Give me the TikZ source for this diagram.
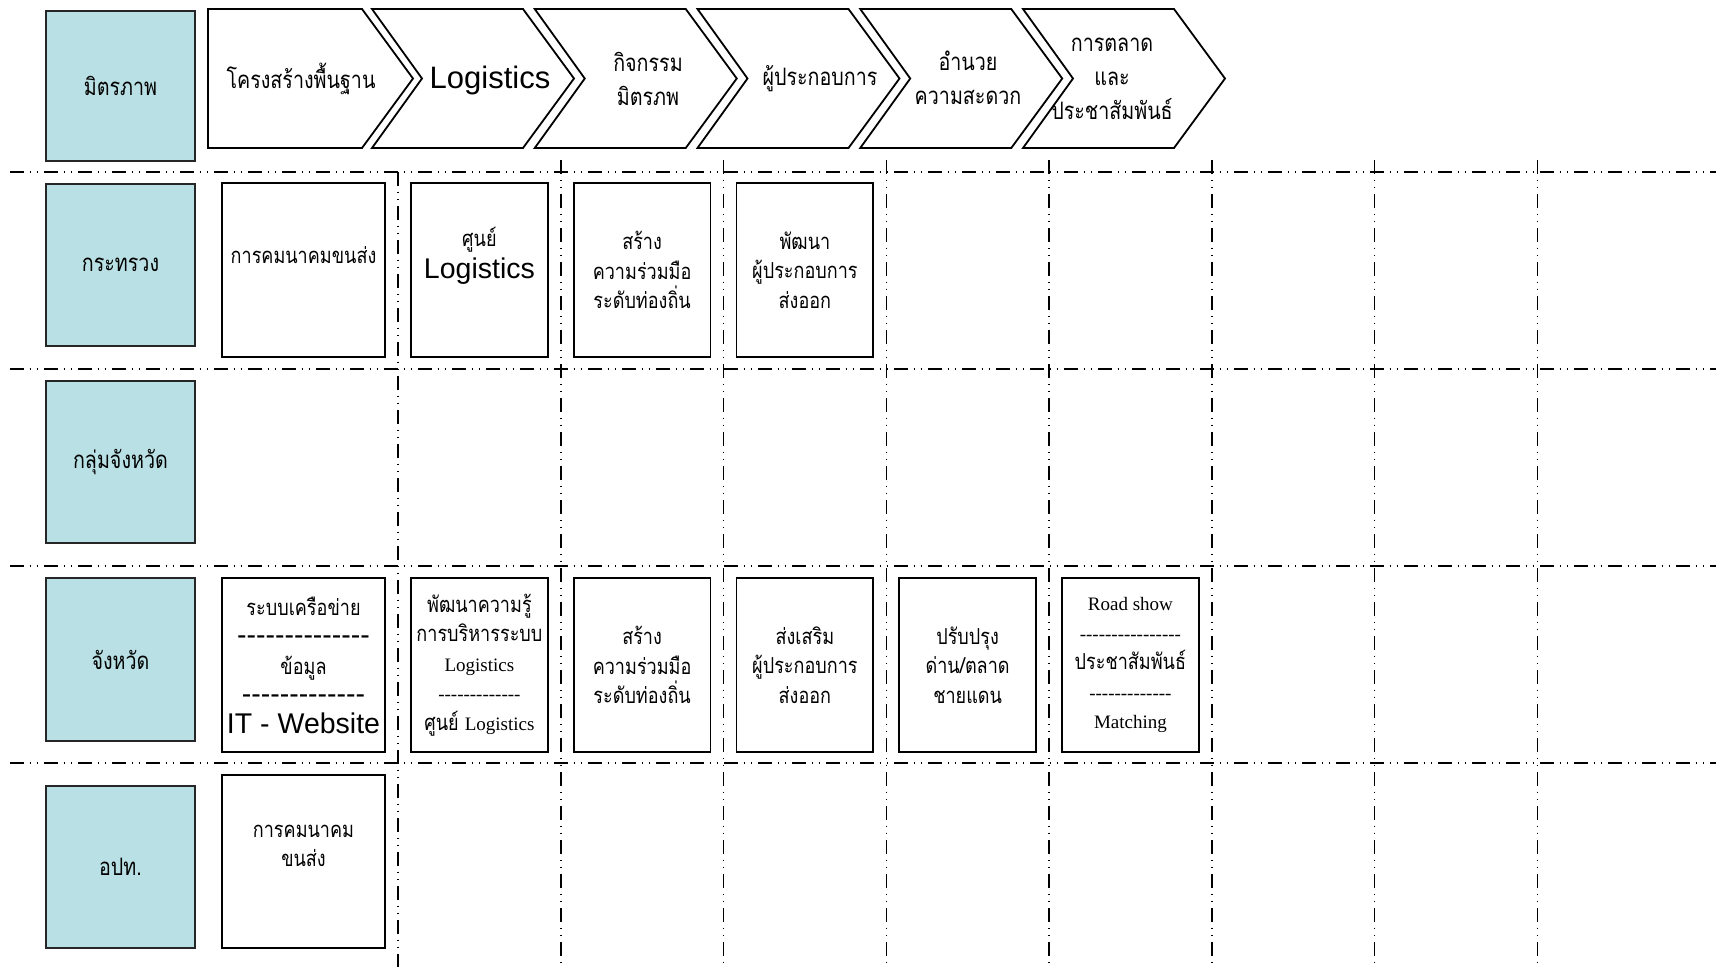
\documentclass[tikz,border=0pt]{standalone}
\usepackage{fontspec}
\setmainfont{Liberation Serif}
\newfontfamily\thaifont[Script=Thai, FakeStretch=0.82]{Loma}
\newfontfamily\arialfont{Liberation Sans}
\definecolor{headcyan}{RGB}{185,224,228}
\lineskiplimit=-50pt
\newcommand{\thaibig}{\thaifont\fontsize{24}{34}\selectfont}
\newcommand{\thaimid}{\thaifont\fontsize{22}{29.5}\selectfont}
\newcommand{\latinsmall}{\rmfamily\fontsize{19}{29.5}\selectfont}
\newcommand{\latinbig}{\arialfont\fontsize{28.5}{29.5}\selectfont}
\newcommand{\dashrow}[1]{\foreach \i in {1,...,#1}{-}}

\begin{document}
\begin{tikzpicture}[
    x=1pt, y=-1pt,
    head/.style={rectangle, draw=black!85, fill=headcyan, line width=1.6pt, minimum width=149pt, minimum height=162pt, inner sep=0pt, font=\thaibig},
    cell/.style={rectangle, draw=black, line width=1.8pt, minimum width=136.75pt, minimum height=174pt, inner sep=0pt, align=center, font=\thaimid},
    chev/.style={draw=black, line width=1.8pt, line join=miter},
    laneline/.style={line width=1.5pt, dash pattern=on 14pt off 5.5pt on 1.5pt off 5.5pt on 1.5pt off 6pt},
    txt/.style={align=center, inner sep=0pt, font=\thaimid},
    ctxt/.style={align=center, inner sep=0pt, font=\thaibig}
]
    \useasboundingbox (0,0) rectangle (1716,970);

    % Lane lines
    \foreach \y in {172,369,566,763}
        \draw[laneline] (10,\y) -- (1716,\y);
    \draw[laneline] (398,172) -- (398,967);
    \foreach \k in {1,...,7}
        \draw[laneline] (398+162.75*\k,160) -- (398+162.75*\k,967);

    % Level headers
    \node[head, minimum height=150pt] (friend) at (120.5,86) {มิตรภาพ};
    \node[head] (ministry) at (120.5,265) {กระทรวง};
    \node[head] (cluster) at (120.5,462) {กลุ่มจังหวัด};
    \node[head, minimum height=163pt] (province) at (120.5,659.5) {จังหวัด};
    \node[head] (local) at (120.5,867) {อปท.};

    % Chevrons
    \draw[chev] (208,9) -- (362,9) -- (413,78.5) -- (362,148) -- (208,148) -- cycle;
    \foreach \k in {2,...,6}{
        \pgfmathsetmacro\xl{372+162.75*(\k-2)}
        \draw[chev] (\xl,9) -- ++(151,0) -- ++(51,69.5) -- ++(-51,69.5) -- ++(-151,0) -- ++(50,-69.5) -- cycle;
    }
    \node[ctxt] (infra) at (301,79) {โครงสร้างพื้นฐาน};
    \node[ctxt, font=\arialfont\fontsize{31}{34}\selectfont] (logi) at (490,80) {Logistics};
    \node[ctxt] (activity) at (648,78.5) {กิจกรรม\\มิตรภพ};
    \node[ctxt] (operator) at (820,79) {ผู้ประกอบการ};
    \node[ctxt] (facility) at (968,78) {อำนวย\\ความสะดวก};
    \node[ctxt] (market) at (1112,79) {การตลาด\\และ\\ประชาสัมพันธ์};

    % Ministry row
    \node[cell, minimum width=163pt] (m-trans) at (303.5,270) {};
    \node[txt] (m-trans-t) at (303.5,255) {การคมนาคมขนส่ง};
    \node[cell] (m-hub) at (479.4,270) {};
    \node[txt] (m-hub-a) at (479.4,240) {ศูนย์};
    \node[txt, font=\latinbig] (m-hub-b) at (479.4,271) {Logistics};
    \node[cell] (m-coop) at (642.1,270) {สร้าง\\ความร่วมมือ\\ระดับท่องถิ่น};
    \node[cell] (m-dev) at (804.9,270) {พัฒนา\\ผู้ประกอบการ\\ส่งออก};

    % Province row
    \node[cell, minimum width=163pt] (p-net) at (303.5,665) {ระบบเครือข่าย\\{\latinbig\dashrow{14}}\\ข้อมูล\\{\latinbig\dashrow{13}}\\{\latinbig IT - Website}};
    \node[cell] (p-hub) at (479.4,665) {พัฒนาความรู้\\การบริหารระบบ\\{\latinsmall Logistics}\\{\latinsmall\dashrow{13}}\\ศูนย์ {\latinsmall Logistics}};
    \node[cell] (p-coop) at (642.1,665) {สร้าง\\ความร่วมมือ\\ระดับท่องถิ่น};
    \node[cell] (p-promo) at (804.9,665) {ส่งเสริม\\ผู้ประกอบการ\\ส่งออก};
    \node[cell] (p-border) at (967.6,665) {ปรับปรุง\\ด่าน/ตลาด\\ชายแดน};
    \node[cell] (p-road) at (1130.4,665) {{\latinsmall Road show}\\{\latinsmall\dashrow{16}}\\ประชาสัมพันธ์\\{\latinsmall\dashrow{13}}\\{\latinsmall Matching}};

    % Local row
    \node[cell, minimum width=163pt, minimum height=173pt] (l-trans) at (303.5,861.5) {};
    \node[txt] (l-trans-t) at (303.5,846) {การคมนาคม\\ขนส่ง};
\end{tikzpicture}
\end{document}
